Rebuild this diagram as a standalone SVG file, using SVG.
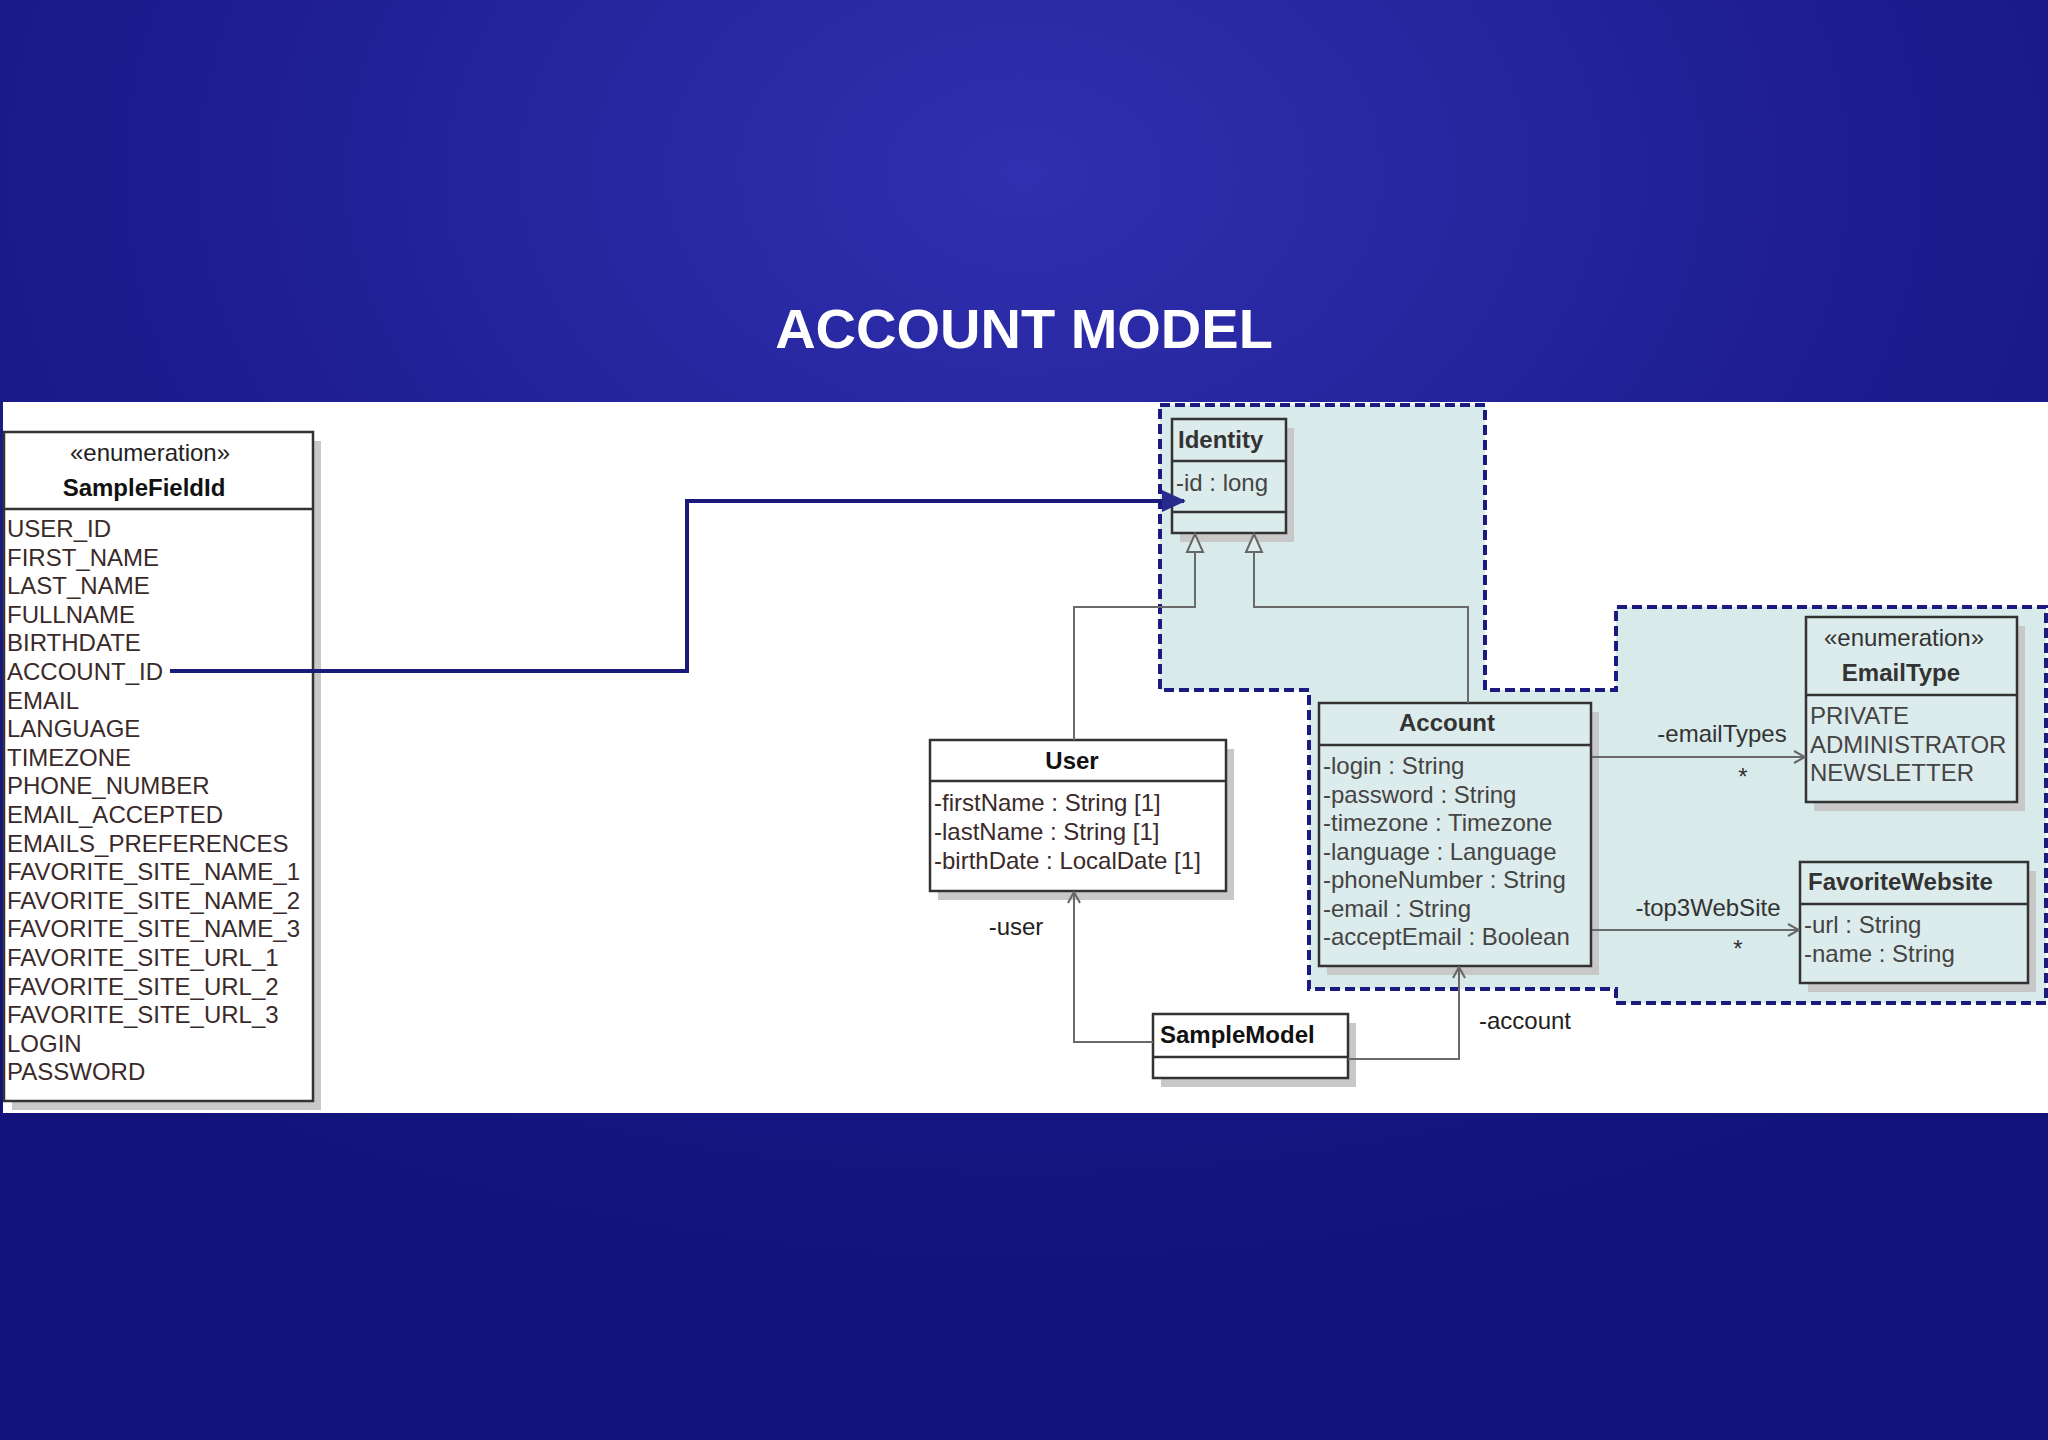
<svg xmlns="http://www.w3.org/2000/svg" width="2048" height="1440" viewBox="0 0 2048 1440">
<defs>
<radialGradient id="bg" cx="0.5" cy="0.12" r="0.8">
<stop offset="0" stop-color="#3030b0"/>
<stop offset="0.55" stop-color="#1c1c8e"/>
<stop offset="1" stop-color="#12127a"/>
</radialGradient>
<marker id="blue" markerWidth="26" markerHeight="26" refX="22" refY="13" orient="auto" markerUnits="userSpaceOnUse" viewBox="0 0 26 26"><path d="M0,2 L24,13 L0,24 z" fill="#2a2a8e"/></marker>
<marker id="open" markerWidth="14" markerHeight="14" refX="13" refY="7" orient="auto" markerUnits="userSpaceOnUse" viewBox="0 0 14 14"><path d="M2,1 L13,7 L2,13" fill="none" stroke="#666" stroke-width="2"/></marker>
<marker id="gen" markerWidth="22" markerHeight="22" refX="20" refY="11" orient="auto" markerUnits="userSpaceOnUse" viewBox="0 0 22 22"><path d="M2,3 L20,11 L2,19 z" fill="#dcebeb" stroke="#666" stroke-width="2"/></marker>
</defs>
<style>
text{font-family:"Liberation Sans",Arial,sans-serif;font-size:24px;fill:#3a2a2a}
.b{font-weight:bold;fill:#111}
.m{text-anchor:middle}
.box{stroke:#333;stroke-width:2.5}
.sh{fill:#c8c8c8}
.c{fill:none;stroke:#6a6a6a;stroke-width:2}
</style>
<rect width="2048" height="1440" fill="url(#bg)"/>
<text x="1024" y="348" class="m" style="font-size:56px;font-weight:bold;fill:#fff">ACCOUNT MODEL</text>
<rect x="3" y="402" width="2045" height="711" fill="#fff"/>
<path d="M1160,405 H1485 V690 H1616 V607 H2046 V1003 H1616 V989 H1309 V690 H1160 Z" fill="#d8eaea" stroke="#1a1a80" stroke-width="4" stroke-dasharray="10,5"/>

<g id="SampleFieldId">
<rect class="sh" x="12" y="441" width="309" height="669"/>
<rect class="box" x="4" y="432" width="309" height="669" fill="#fff"/>
<line class="box" x1="4" y1="509" x2="313" y2="509"/>
<text x="150" y="461" class="m" style="fill:#222">«enumeration»</text>
<text x="144" y="496" class="m b">SampleFieldId</text>
<text x="7" y="537">USER_ID</text>
<text x="7" y="566">FIRST_NAME</text>
<text x="7" y="594">LAST_NAME</text>
<text x="7" y="623">FULLNAME</text>
<text x="7" y="651">BIRTHDATE</text>
<text x="7" y="680">ACCOUNT_ID</text>
<text x="7" y="709">EMAIL</text>
<text x="7" y="737">LANGUAGE</text>
<text x="7" y="766">TIMEZONE</text>
<text x="7" y="794">PHONE_NUMBER</text>
<text x="7" y="823">EMAIL_ACCEPTED</text>
<text x="7" y="852">EMAILS_PREFERENCES</text>
<text x="7" y="880">FAVORITE_SITE_NAME_1</text>
<text x="7" y="909">FAVORITE_SITE_NAME_2</text>
<text x="7" y="937">FAVORITE_SITE_NAME_3</text>
<text x="7" y="966">FAVORITE_SITE_URL_1</text>
<text x="7" y="995">FAVORITE_SITE_URL_2</text>
<text x="7" y="1023">FAVORITE_SITE_URL_3</text>
<text x="7" y="1052">LOGIN</text>
<text x="7" y="1080">PASSWORD</text>
</g>

<g id="Identity">
<rect class="sh" x="1180" y="428" width="114" height="114"/>
<rect class="box" x="1172" y="419" width="114" height="114" fill="#dcebeb"/>
<line class="box" x1="1172" y1="461" x2="1286" y2="461"/>
<line class="box" x1="1172" y1="512" x2="1286" y2="512"/>
<text x="1178" y="448" class="b" style="fill:#333">Identity</text>
<text x="1176" y="491" style="fill:#444">-id : long</text>
</g>

<g id="User">
<rect class="sh" x="938" y="749" width="296" height="151"/>
<rect class="box" x="930" y="740" width="296" height="151" fill="#fff"/>
<line class="box" x1="930" y1="781" x2="1226" y2="781"/>
<text x="1072" y="769" class="m b">User</text>
<text x="934" y="811">-firstName : String [1]</text>
<text x="934" y="840">-lastName : String [1]</text>
<text x="934" y="869">-birthDate : LocalDate [1]</text>
</g>

<g id="Account">
<rect class="sh" x="1327" y="712" width="272" height="263"/>
<rect class="box" x="1319" y="703" width="272" height="263" fill="#dcebeb"/>
<line class="box" x1="1319" y1="745" x2="1591" y2="745"/>
<text x="1447" y="731" class="m b" style="fill:#333">Account</text>
<text x="1323" y="774" style="fill:#444">-login : String</text>
<text x="1323" y="803" style="fill:#444">-password : String</text>
<text x="1323" y="831" style="fill:#444">-timezone : Timezone</text>
<text x="1323" y="860" style="fill:#444">-language : Language</text>
<text x="1323" y="888" style="fill:#444">-phoneNumber : String</text>
<text x="1323" y="917" style="fill:#444">-email : String</text>
<text x="1323" y="945" style="fill:#444">-acceptEmail : Boolean</text>
</g>

<g id="EmailType">
<rect class="sh" x="1814" y="626" width="211" height="185"/>
<rect class="box" x="1806" y="617" width="211" height="185" fill="#dcebeb"/>
<line class="box" x1="1806" y1="695" x2="2017" y2="695"/>
<text x="1904" y="646" class="m" style="fill:#333">«enumeration»</text>
<text x="1901" y="681" class="m b" style="fill:#333">EmailType</text>
<text x="1810" y="724" style="fill:#444">PRIVATE</text>
<text x="1810" y="753" style="fill:#444">ADMINISTRATOR</text>
<text x="1810" y="781" style="fill:#444">NEWSLETTER</text>
</g>

<g id="FavoriteWebsite">
<rect class="sh" x="1808" y="871" width="228" height="121"/>
<rect class="box" x="1800" y="862" width="228" height="121" fill="#dcebeb"/>
<line class="box" x1="1800" y1="904" x2="2028" y2="904"/>
<text x="1808" y="890" class="b" style="fill:#333">FavoriteWebsite</text>
<text x="1804" y="933" style="fill:#444">-url : String</text>
<text x="1804" y="962" style="fill:#444">-name : String</text>
</g>

<g id="SampleModel">
<rect class="sh" x="1161" y="1023" width="195" height="64"/>
<rect class="box" x="1153" y="1014" width="195" height="64" fill="#fff"/>
<line class="box" x1="1153" y1="1057" x2="1348" y2="1057"/>
<text x="1160" y="1043" class="b">SampleModel</text>
</g>

<g id="connectors">
<polyline points="170,671 687,671 687,501 1184,501" fill="none" stroke="#1a1a7a" stroke-width="4" marker-end="url(#blue)"/>
<polyline class="c" points="1074,740 1074,607 1195,607 1195,534" marker-end="url(#gen)"/>
<polyline class="c" points="1468,703 1468,607 1254,607 1254,534" marker-end="url(#gen)"/>
<line class="c" x1="1592" y1="757" x2="1805" y2="757" marker-end="url(#open)"/>
<line class="c" x1="1592" y1="930" x2="1799" y2="930" marker-end="url(#open)"/>
<polyline class="c" points="1153,1042 1074,1042 1074,892" marker-end="url(#open)"/>
<polyline class="c" points="1348,1059 1459,1059 1459,967" marker-end="url(#open)"/>
<text x="1722" y="742" class="m" style="fill:#333">-emailTypes</text>
<text x="1743" y="785" class="m" style="fill:#333">*</text>
<text x="1708" y="916" class="m" style="fill:#333">-top3WebSite</text>
<text x="1738" y="957" class="m" style="fill:#333">*</text>
<text x="1016" y="935" class="m" style="fill:#222">-user</text>
<text x="1525" y="1029" class="m" style="fill:#222">-account</text>
</g>
</svg>
